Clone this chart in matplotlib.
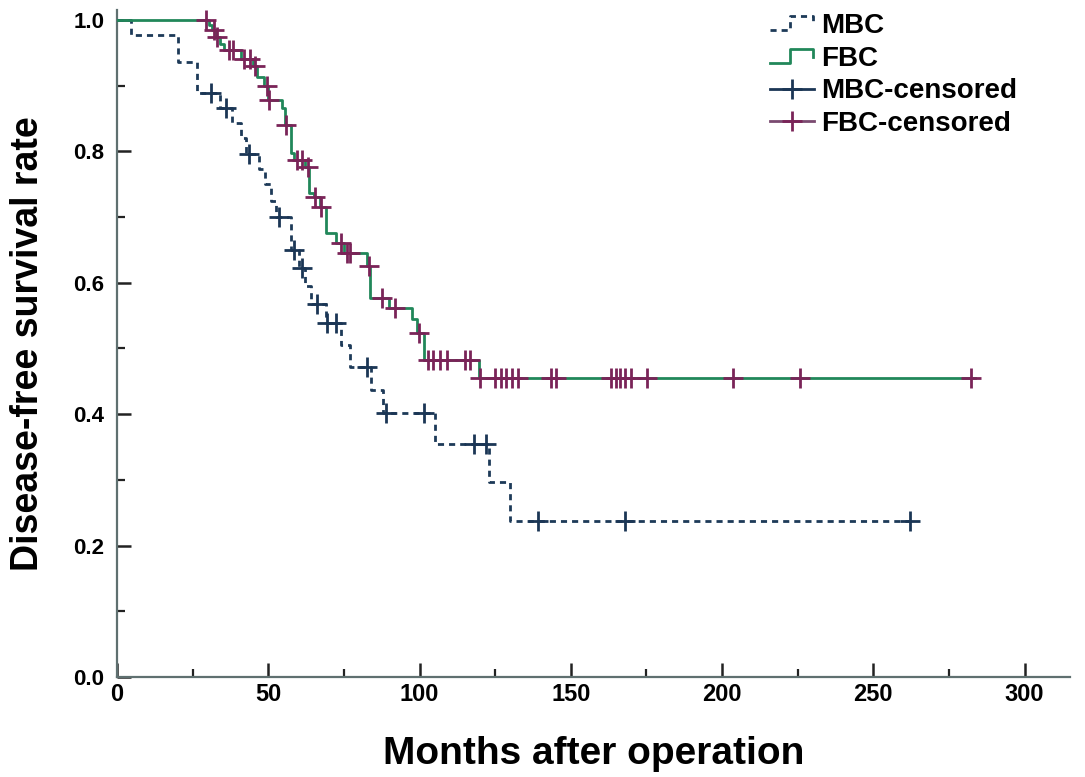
import numpy as np
import matplotlib
matplotlib.use("Agg")
import matplotlib.pyplot as plt
from matplotlib.lines import Line2D
from matplotlib.legend_handler import HandlerBase
from matplotlib.ticker import MultipleLocator, FixedLocator

# ---------------- data ----------------
mbc_event_t = [4.5, 20, 26.5, 34, 38, 41, 42.5, 47, 49, 51, 52.5, 57.5, 60, 62, 64,
               69, 74, 77, 84, 88, 105, 123, 130]
mbc_event_s = [0.977, 0.936, 0.889, 0.866, 0.843, 0.820, 0.796, 0.773, 0.750, 0.725,
               0.700, 0.650, 0.622, 0.595, 0.568, 0.539, 0.505, 0.472, 0.437, 0.402,
               0.355, 0.296, 0.237]
mbc_censor_t = [31, 36, 43.5, 53.5, 58.5, 61, 66, 69.5, 72.5, 82.7, 89, 101.5,
                118, 122, 139, 168, 262]

fbc_event_t = [30.4, 31.4, 32.6, 34, 35.3, 41, 44.8, 46.2, 48.5, 50, 54.5, 55.4,
               57.4, 58.4, 62, 63.4, 65, 67, 69, 72.5, 75, 82.5, 83.5, 89.8, 97.4,
               99, 101.6, 119.5]
fbc_event_s = [0.992, 0.985, 0.974, 0.964, 0.954, 0.940, 0.930, 0.913, 0.900, 0.878,
               0.866, 0.840, 0.797, 0.787, 0.776, 0.737, 0.730, 0.715, 0.675, 0.660,
               0.645, 0.625, 0.577, 0.561, 0.545, 0.524, 0.482, 0.455]
fbc_censor_t = [29.5, 32, 33.2, 37, 38.5, 42, 44, 45.5, 49.5, 50.3, 56, 59.5, 61, 63,
                65.6, 67.3, 73.9, 76, 77, 83.2, 87.5, 92, 99.7, 102.7, 104.6, 106.9,
                109.2, 115, 116.7, 120, 124.8, 127, 128.7, 130.4, 132.7, 143.6, 145.2,
                163.4, 165, 166.3, 168, 170, 175.2, 203.6, 225.7, 282.2]

x_ticks = [0, 50, 100, 150, 200, 250, 300]
y_ticks = [0.0, 0.2, 0.4, 0.6, 0.8, 1.0]
y_ticklabels = ["0.0", "0.2", "0.4", "0.6", "0.8", "1.0"]
legend_labels = ["MBC", "FBC", "MBC-censored", "FBC-censored"]

# ---------------- helpers ----------------
def step_series(ev_t, ev_s, end_t):
    t = np.concatenate([[0.0], ev_t, [end_t]])
    s = np.concatenate([[1.0], ev_s, [ev_s[-1]]])
    return t, s

def surv_at(ev_t, ev_s, t):
    ev_t = np.asarray(ev_t); ev_s = np.asarray(ev_s)
    out = []
    for x in t:
        idx = np.searchsorted(ev_t, x, side="right") - 1
        out.append(1.0 if idx < 0 else ev_s[idx])
    return np.array(out)

class StepHandler(HandlerBase):
    def create_artists(self, legend, orig_handle, xdescent, ydescent,
                       width, height, fontsize, trans):
        xs = np.array([0.0, 0.45, 0.45, 0.98, 0.98]) * width - xdescent
        ys = np.array([0.15, 0.15, 0.85, 0.85, 0.45]) * height - ydescent
        ln = Line2D(xs, ys)
        ln.update_from(orig_handle)
        ln.set_transform(trans)
        return [ln]

# ---------------- figure ----------------
fig = plt.figure(figsize=(10.85, 7.77), dpi=100)
ax = fig.add_axes([117/1085, 1-677/777, (1070-117)/1085, (677-10)/777])

mbc_col = "#1d3a58"
fbc_col = "#21875a"
mbc_cens_col = "#1b3655"
fbc_cens_col = "#7a2458"

t, s = step_series(mbc_event_t, mbc_event_s, mbc_censor_t[-1])
ax.step(t, s, where="post", color=mbc_col, lw=2.0, linestyle=(0, (2.2, 1.8)), zorder=3)
t, s = step_series(fbc_event_t, fbc_event_s, fbc_censor_t[-1] + 1.5)
ax.step(t, s, where="post", color=fbc_col, lw=2.0, zorder=3)

ax.plot(mbc_censor_t, surv_at(mbc_event_t, mbc_event_s, mbc_censor_t), linestyle="none",
        marker="+", markersize=15, mew=2.0, color=mbc_cens_col, zorder=4)
ax.plot(fbc_censor_t, surv_at(fbc_event_t, fbc_event_s, fbc_censor_t), linestyle="none",
        marker="+", markersize=15, mew=2.0, color=fbc_cens_col, zorder=4)

ax.set_xlim(0, 315)
ax.set_ylim(0, 1.015)

for sp in ["top", "right"]:
    ax.spines[sp].set_visible(False)
ax.spines["left"].set_color("#5f7070")
ax.spines["left"].set_linewidth(1.6)
ax.spines["bottom"].set_color("#5f7070")
ax.spines["bottom"].set_linewidth(1.6)

ax.xaxis.set_major_locator(FixedLocator(x_ticks))
ax.xaxis.set_minor_locator(MultipleLocator(25))
ax.yaxis.set_major_locator(FixedLocator(y_ticks))
ax.yaxis.set_minor_locator(MultipleLocator(0.1))
ax.tick_params(axis="both", which="major", direction="in", length=10, width=1.8,
               color="#222222")
ax.tick_params(axis="both", which="minor", direction="in", length=6, width=1.6,
               color="#222222")
ax.tick_params(axis="x", which="major", pad=4)
ax.tick_params(axis="y", which="major", pad=9)

font_fam = ["Liberation Sans", "DejaVu Sans"]

ax.set_xticks(x_ticks)
ax.set_xticklabels([str(v) for v in x_ticks], fontsize=17, fontweight="bold",
                   family=font_fam)
ax.set_yticks(y_ticks)
ax.set_yticklabels(y_ticklabels, fontsize=16, fontweight="bold", family=font_fam)

ax.set_xlabel("Months after operation", fontsize=28, fontweight="bold", family=font_fam,
              labelpad=22)
ax.set_ylabel("Disease-free survival rate", fontsize=27, fontweight="bold",
              family=font_fam, labelpad=20)

h_mbc = Line2D([], [], color=mbc_col, lw=2.0, linestyle=(0, (2.2, 1.8)))
h_fbc = Line2D([], [], color=fbc_col, lw=2.0)
h_mc = Line2D([], [], color=mbc_cens_col, lw=2.0, marker="+", markersize=15, mew=2.0)
h_fc = Line2D([], [], color="#7a4a70", lw=2.0, marker="+", markersize=15, mew=2.0,
              markeredgecolor=fbc_cens_col)

leg = fig.legend([h_mbc, h_fbc, h_mc, h_fc], legend_labels, loc="upper left",
                 bbox_to_anchor=(756/1085, 1 + 1/777), frameon=False,
                 prop={"family": font_fam, "weight": "bold", "size": 20},
                 handlelength=1.6, handletextpad=0.25, labelspacing=0.24,
                 borderpad=0.0, handler_map={h_mbc: StepHandler(), h_fbc: StepHandler()})

fig.savefig("out.png", dpi=100)
